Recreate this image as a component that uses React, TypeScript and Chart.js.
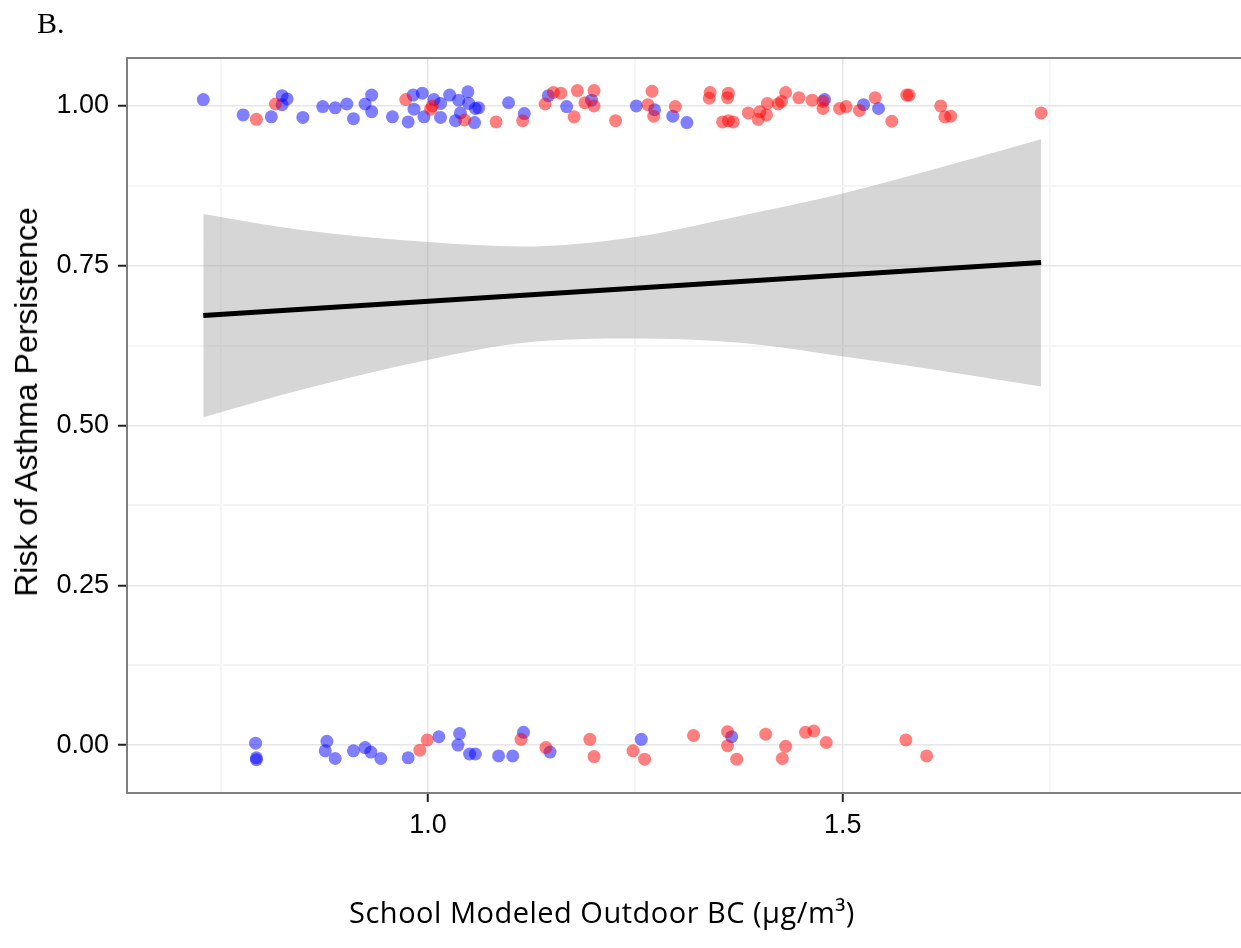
import React, { useEffect, useRef } from 'react';
import { Chart, registerables } from 'chart.js';

Chart.register(...registerables);

// ---- axis ranges & ticks ----
const X_MIN = 0.637;
const X_MAX = 1.98;
const Y_MIN = -0.075;
const Y_MAX = 1.075;
const X_GRID = [0.75, 1.0, 1.25, 1.5, 1.75];
const X_LABELED = [1.0, 1.5];
const Y_GRID = [0, 0.125, 0.25, 0.375, 0.5, 0.625, 0.75, 0.875, 1.0];
const Y_LABELED = [0, 0.25, 0.5, 0.75, 1.0];

// ---- blue points ----
const BLUE_X = [
  0.729, 0.777, 0.811, 0.824, 0.830, 0.824, 0.849, 0.873, 0.888, 0.902, 0.910, 0.924, 0.932, 0.932,
  0.957, 0.976, 0.982, 0.993, 0.983, 0.995, 1.007, 1.015, 1.015, 1.026, 1.037, 1.048, 1.039, 1.033,
  1.049, 1.057, 1.061, 1.056, 1.097, 1.116, 1.145, 1.167, 1.197, 1.251, 1.273, 1.295, 1.312, 1.478,
  1.525, 1.543,
  0.792, 0.793, 0.793, 0.878, 0.876, 0.888, 0.910, 0.924, 0.931, 0.943, 0.976, 1.013, 1.038, 1.036,
  1.050, 1.057, 1.085, 1.102, 1.115, 1.147, 1.257, 1.366,
];
const BLUE_Y = [
  1.010, 0.986, 0.983, 1.016, 1.011, 1.002, 0.982, 0.999, 0.997, 1.003, 0.980, 1.003, 1.017, 0.991,
  0.983, 0.975, 1.017, 1.020, 0.995, 0.983, 1.010, 1.004, 0.982, 1.017, 1.009, 1.022, 0.989, 0.977,
  1.004, 0.996, 0.997, 0.974, 1.005, 0.988, 1.016, 0.999, 1.009, 1.000, 0.994, 0.984, 0.974, 1.010,
  1.002, 0.996,
  0.003, -0.020, -0.023, 0.006, -0.009, -0.021, -0.009, -0.004, -0.011, -0.021, -0.020, 0.013, 0.018, 0.000,
  -0.014, -0.014, -0.017, -0.017, 0.020, -0.011, 0.009, 0.013,
];

// ---- red points ----
const RED_X = [
  0.793, 0.816, 0.973, 1.003, 1.005, 1.044, 1.082, 1.114, 1.141, 1.151, 1.160, 1.176, 1.180, 1.189,
  1.200, 1.200, 1.226, 1.270, 1.265, 1.272, 1.298, 1.340, 1.339, 1.362, 1.361, 1.355, 1.362, 1.368,
  1.386, 1.400, 1.398, 1.408, 1.409, 1.422, 1.426, 1.431, 1.447, 1.463, 1.476, 1.476, 1.496, 1.504,
  1.520, 1.539, 1.559, 1.577, 1.580, 1.618, 1.623, 1.630, 1.739,
  0.990, 0.999, 1.112, 1.142, 1.195, 1.200, 1.247, 1.261, 1.320, 1.361, 1.361, 1.372, 1.407, 1.431,
  1.427, 1.455, 1.465, 1.480, 1.576, 1.601,
];
const RED_Y = [
  0.979, 1.003, 1.010, 0.995, 1.000, 0.978, 0.975, 0.977, 1.003, 1.021, 1.020, 0.983, 1.024, 1.005,
  1.024, 1.000, 0.977, 1.023, 1.002, 0.984, 0.999, 1.021, 1.012, 1.020, 1.013, 0.975, 0.977, 0.975,
  0.989, 0.991, 0.979, 0.986, 1.004, 1.003, 1.007, 1.021, 1.013, 1.009, 1.007, 0.996, 0.996, 0.999,
  0.993, 1.013, 0.976, 1.017, 1.017, 1.000, 0.983, 0.984, 0.989,
  -0.008, 0.008, 0.009, -0.004, 0.009, -0.018, -0.009, -0.022, 0.015, 0.021, -0.001, -0.022, 0.017, -0.002,
  -0.021, 0.020, 0.022, 0.004, 0.008, -0.017,
];

// ---- fitted line & confidence band ----
const FIT_X = [0.729, 1.739];
const FIT_Y = [0.672, 0.755];
const BAND_X = [0.729, 0.847, 1.001, 1.113, 1.25, 1.38, 1.5, 1.613, 1.739];
const BAND_UPPER = [0.831, 0.806, 0.787, 0.780, 0.795, 0.829, 0.863, 0.902, 0.948];
const BAND_LOWER = [0.513, 0.556, 0.603, 0.629, 0.636, 0.629, 0.608, 0.587, 0.561];

const pts = (xs: number[], ys: number[]) => xs.map((x, i) => ({ x, y: ys[i] }));
const has = (arr: number[], v: number) => arr.some((a) => Math.abs(a - v) < 1e-9);

const FONT = 'Liberation Sans, Arial, Helvetica, sans-serif';

const borderPlugin = {
  id: 'panelBorder',
  afterDatasetsDraw(chart: any) {
    const { ctx, chartArea } = chart;
    ctx.save();
    ctx.strokeStyle = '#7f7f7f';
    ctx.lineWidth = 2;
    ctx.beginPath();
    ctx.moveTo(chartArea.right + 5, chartArea.top);
    ctx.lineTo(chartArea.left, chartArea.top);
    ctx.lineTo(chartArea.left, chartArea.bottom);
    ctx.lineTo(chartArea.right + 5, chartArea.bottom);
    ctx.stroke();
    ctx.restore();
  },
};

export default function App() {
  const ref = useRef<HTMLCanvasElement>(null);

  useEffect(() => {
    document.body.style.margin = '0';
    const chart = new Chart(ref.current as HTMLCanvasElement, {
      type: 'line',
      data: {
        datasets: [
          {
            label: 'red',
            data: pts(RED_X, RED_Y),
            showLine: false,
            pointRadius: 6.5,
            pointHoverRadius: 6.5,
            pointBackgroundColor: 'rgba(255,0,0,0.5)',
            pointBorderWidth: 0,
            pointBorderColor: 'rgba(0,0,0,0)',
            order: 0,
          },
          {
            label: 'blue',
            data: pts(BLUE_X, BLUE_Y),
            showLine: false,
            pointRadius: 6.5,
            pointHoverRadius: 6.5,
            pointBackgroundColor: 'rgba(0,0,255,0.5)',
            pointBorderWidth: 0,
            pointBorderColor: 'rgba(0,0,0,0)',
            order: 1,
          },
          {
            label: 'fit',
            data: pts(FIT_X, FIT_Y),
            borderColor: '#000',
            borderWidth: 5,
            pointRadius: 0,
            tension: 0,
            fill: false,
            order: 2,
          },
          {
            label: 'upper',
            data: pts(BAND_X, BAND_UPPER),
            borderColor: 'rgba(0,0,0,0)',
            borderWidth: 0,
            pointRadius: 0,
            cubicInterpolationMode: 'monotone',
            fill: '+1',
            backgroundColor: 'rgba(153,153,153,0.4)',
            order: 3,
          },
          {
            label: 'lower',
            data: pts(BAND_X, BAND_LOWER),
            borderColor: 'rgba(0,0,0,0)',
            borderWidth: 0,
            pointRadius: 0,
            cubicInterpolationMode: 'monotone',
            fill: false,
            order: 4,
          },
        ] as any,
      },
      options: {
        animation: false,
        responsive: false,
        maintainAspectRatio: false,
        events: [],
        layout: { autoPadding: false, padding: { top: 58, left: 0, right: 0, bottom: 0 } },
        plugins: {
          legend: { display: false },
          tooltip: { enabled: false },
          title: { display: false },
        },
        scales: {
          x: {
            type: 'linear',
            min: X_MIN,
            max: X_MAX,
            afterBuildTicks: (s: any) => {
              s.ticks = X_GRID.map((v) => ({ value: v }));
            },
            afterFit: (s: any) => {
              s.height = 155;
              s.paddingLeft = 0;
              s.paddingRight = 0;
            },
            border: { display: false },
            grid: {
              color: (c: any) => (has(X_LABELED, c.tick?.value) ? '#e6e6e6' : '#f5f5f5'),
              lineWidth: (c: any) => (has(X_LABELED, c.tick?.value) ? 1.5 : 2),
              tickColor: (c: any) => (has(X_LABELED, c.tick?.value) ? '#222' : 'rgba(0,0,0,0)'),
              tickLength: 9,
              tickWidth: 2,
            },
            ticks: {
              autoSkip: false,
              maxRotation: 0,
              padding: 7,
              color: '#000',
              font: { family: FONT, size: 27 },
              callback: (v: any) => (has(X_LABELED, Number(v)) ? Number(v).toFixed(1) : ''),
            },
          },
          y: {
            type: 'linear',
            min: Y_MIN,
            max: Y_MAX,
            afterBuildTicks: (s: any) => {
              s.ticks = Y_GRID.map((v) => ({ value: v }));
            },
            afterFit: (s: any) => {
              s.width = 127;
              s.paddingTop = 0;
              s.paddingBottom = 0;
            },
            border: { display: false },
            grid: {
              color: (c: any) => (has(Y_LABELED, c.tick?.value) ? '#e6e6e6' : '#f5f5f5'),
              lineWidth: (c: any) => (has(Y_LABELED, c.tick?.value) ? 1.5 : 2),
              tickColor: (c: any) => (has(Y_LABELED, c.tick?.value) ? '#222' : 'rgba(0,0,0,0)'),
              tickLength: 9,
              tickWidth: 2,
            },
            ticks: {
              autoSkip: false,
              padding: 9,
              color: '#000',
              font: { family: FONT, size: 27 },
              callback: (v: any) => (has(Y_LABELED, Number(v)) ? Number(v).toFixed(2) : ''),
            },
          },
        },
      } as any,
      plugins: [borderPlugin],
    });
    return () => chart.destroy();
  }, []);

  return (
    <div style={{ position: 'absolute', left: 0, top: 0, width: 1241, height: 948, background: '#fff', overflow: 'hidden' }}>
      <canvas
        ref={ref}
        width={1241}
        height={948}
        style={{ position: 'absolute', left: 0, top: 0, width: 1241, height: 948 }}
      />
      <div
        style={{
          position: 'absolute',
          left: 37,
          top: 8,
          fontFamily: '"Liberation Serif", "Times New Roman", serif',
          fontSize: 30,
          lineHeight: 1,
          color: '#000',
          whiteSpace: 'nowrap',
        }}
      >
        B.
      </div>
      <div style={{ position: 'absolute', left: 25.5, top: 401.5, width: 0, height: 0 }}>
        <div
          style={{
            position: 'absolute',
            left: 0,
            top: 0,
            transform: 'translate(-50%, -50%) rotate(-90deg)',
            fontFamily: FONT,
            fontSize: 32,
            lineHeight: 1,
            color: '#000',
            whiteSpace: 'nowrap',
          }}
        >
          Risk of Asthma Persistence
        </div>
      </div>
      <div style={{ position: 'absolute', left: 602, top: 910.5, width: 0, height: 0 }}>
        <div
          style={{
            position: 'absolute',
            left: 0,
            top: 0,
            transform: 'translate(-50%, -50%)',
            fontFamily: '"Open Sans", Lato, sans-serif',
            fontSize: 29,
            letterSpacing: 0.5,
            lineHeight: 1,
            color: '#000',
            whiteSpace: 'nowrap',
          }}
        >
          School Modeled Outdoor BC (μg/m³)
        </div>
      </div>
    </div>
  );
}
